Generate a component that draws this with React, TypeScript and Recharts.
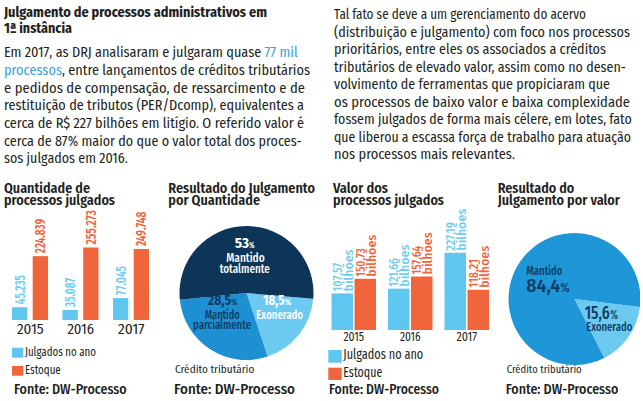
import React from "react";
import { BarChart, Bar, XAxis, YAxis, LabelList, PieChart, Pie, Cell } from "recharts";

// dados
const years = ["2015", "2016", "2017"];
const julgadosQtd = [45235, 35087, 77045];
const estoqueQtd = [224839, 255273, 249748];
const julgadosValor = [107.57, 121.66, 227.19];
const estoqueValor = [150.73, 157.64, 118.21];
const resultadoQtdNames = ["Exonerado", "Mantido parcialmente", "Mantido totalmente"];
const resultadoQtd = [18.5, 28.5, 53];
const resultadoValorNames = ["Exonerado", "Mantido"];
const resultadoValor = [15.6, 84.4];

const FONT =
  "'Fira Sans Condensed', 'Liberation Sans Narrow', 'Roboto Condensed', 'DejaVu Sans Condensed', sans-serif";
const INK = "#231f20";
const ORANGE = "#f0653b";
const SKY = "#5fc6f0";
const SKY_TEXT = "#6fcbf1";
const NAVY = "#0c3557";
const NAVY_TEXT = "#0d3a63";
const MID = "#1d90d2";
const MID2 = "#1e96d7";
const LIGHT = "#6ccaf1";
const LINK = "#3aa1d9";

const qtdData = years.map((year, i) => ({ year, julgados: julgadosQtd[i], estoque: estoqueQtd[i] }));
const valorData = years.map((year, i) => ({ year, julgados: julgadosValor[i], estoque: estoqueValor[i] }));
const qtdPie = resultadoQtdNames.map((name, i) => ({ name, value: resultadoQtd[i] }));
const valorPie = resultadoValorNames.map((name, i) => ({ name, value: resultadoValor[i] }));

const qtdColors: Record<string, string> = {
  Exonerado: LIGHT,
  "Mantido parcialmente": MID,
  "Mantido totalmente": NAVY,
};
const valorColors: Record<string, string> = { Exonerado: LIGHT, Mantido: MID2 };

const fmtQtd = (v: number) => String(v).replace(/\B(?=(\d{3})+(?!\d))/g, ".");
const fmtDec = (v: number) => v.toFixed(2).replace(".", ",");
const fmtPct = (v: number) => String(v).replace(".", ",");

function estW(s: string, digit: number) {
  let w = 0;
  for (const ch of s) w += ch === "." || ch === "," ? digit * 0.5 : digit;
  return w;
}

type TProps = {
  x: number;
  y: number;
  w?: number;
  size: number;
  weight?: number;
  fill?: string;
  children: React.ReactNode;
};

const T = ({ x, y, w, size, weight = 400, fill = INK, children }: TProps) => (
  <text
    x={x}
    y={y}
    fontSize={size}
    fontWeight={weight}
    fill={fill}
    fontFamily={FONT}
    textLength={w}
    lengthAdjust={w ? "spacingAndGlyphs" : undefined}
  >
    {children}
  </text>
);

const leftLines = [
  { t: "processos, entre lançamentos de créditos tributários", w: 306 },
  { t: "e pedidos de compensação, de ressarcimento e de", w: 301 },
  { t: "restituição de tributos (PER/Dcomp), equivalentes a", w: 300 },
  { t: "cerca de R$ 227 bilhões em litígio. O referido valor é", w: 300 },
  { t: "cerca de 87% maior do que o valor total dos proces-", w: 297.7 },
  { t: "sos julgados em 2016.", w: 123.7 },
];

const rightLines = [
  { t: "Tal fato se deve a um gerenciamento do acervo", w: 252 },
  { t: "(distribuição e julgamento) com foco nos processos", w: 296 },
  { t: "prioritários, entre eles os associados a créditos", w: 272 },
  { t: "tributários de elevado valor, assim como no desen-", w: 292 },
  { t: "volvimento de ferramentas que propiciaram que", w: 276 },
  { t: "os processos de baixo valor e baixa complexidade", w: 296 },
  { t: "fossem julgados de forma mais célere, em lotes, fato", w: 297.7 },
  { t: "que liberou a escassa força de trabalho para atuação", w: 297 },
  { t: "nos processos mais relevantes.", w: 181 },
];

const getBox = (p: any) => ({
  x: p.x ?? p.viewBox?.x,
  y: p.y ?? p.viewBox?.y,
  width: p.width ?? p.viewBox?.width,
});

const qtdLabel = (fill: string) => (props: any) => {
  const { x, y, width } = getBox(props);
  const s = fmtQtd(Number(props.value));
  const cx = x + width / 2 + 5;
  const cy = y - 3;
  return (
    <text
      x={cx}
      y={cy}
      transform={`rotate(-90 ${cx} ${cy})`}
      fill={fill}
      fontSize={13.5}
      fontWeight={600}
      fontFamily={FONT}
      textLength={estW(s, 5.3)}
      lengthAdjust="spacingAndGlyphs"
    >
      {s}
    </text>
  );
};

const valorLabel = (fill: string) => (props: any) => {
  const { x, y, width } = getBox(props);
  const s = fmtDec(Number(props.value));
  const c = x + width / 2;
  const y0 = y - 2;
  const a = c - 0.5;
  const b = c + 10.5;
  return (
    <g fill={fill} fontFamily={FONT} fontSize={12} fontWeight={500}>
      <text x={a} y={y0} transform={`rotate(-90 ${a} ${y0})`} textLength={estW(s, 5.2)} lengthAdjust="spacingAndGlyphs">
        {s}
      </text>
      <text x={b} y={y0} transform={`rotate(-90 ${b} ${y0})`} textLength={42} lengthAdjust="spacingAndGlyphs">
        bilhões
      </text>
    </g>
  );
};

const QtdTick = (props: any) => {
  const { x, y, payload } = props;
  const w = 26.7;
  return (
    <T x={x - w / 2} y={y + 14} size={15} w={w}>
      {payload.value}
    </T>
  );
};

const ValorTick = (props: any) => {
  const { x, y, payload } = props;
  const w = 20.7;
  return (
    <T x={x - w / 2} y={y + 11} size={13} w={w}>
      {payload.value}
    </T>
  );
};

function QtdPieLabel(props: any) {
  const { cx, cy, index } = props;
  const name = resultadoQtdNames[index];
  const pct = fmtPct(resultadoQtd[index]);
  const words = name.split(" ");
  if (name === "Mantido totalmente") {
    return (
      <g>
        <T x={cx - 11.8} y={cy - 44.7} size={13.5} weight={700} fill="#fff" w={14.3}>{pct}</T>
        <T x={cx + 2.5} y={cy - 44.7} size={9} weight={700} fill="#fff" w={5.5}>%</T>
        <T x={cx - 20.2} y={cy - 31.3} size={12} weight={500} fill="#fff" w={38.4}>{words[0]}</T>
        <T x={cx - 26.8} y={cy - 19.7} size={12} weight={500} fill="#fff" w={50}>{words[1]}</T>
      </g>
    );
  }
  if (name === "Mantido parcialmente") {
    return (
      <g>
        <T x={cx - 38.5} y={cy + 12} size={13.5} weight={700} fill={NAVY_TEXT} w={23}>{pct}</T>
        <T x={cx - 15.2} y={cy + 12} size={9} weight={700} fill={NAVY_TEXT} w={6}>%</T>
        <T x={cx - 41.8} y={cy + 26} size={12} weight={500} fill={NAVY_TEXT} w={35}>{words[0]}</T>
        <T x={cx - 53.5} y={cy + 36} size={12} weight={500} fill={NAVY_TEXT} w={58}>{words[1]}</T>
      </g>
    );
  }
  return (
    <g>
      <T x={cx + 16.5} y={cy + 12} size={13.5} weight={700} fill="#fff" w={21.5}>{pct}</T>
      <T x={cx + 38.2} y={cy + 12} size={9} weight={700} fill="#fff" w={6.5}>%</T>
      <T x={cx + 9.8} y={cy + 25.5} size={12} weight={500} fill="#fff" w={46.7}>{name}</T>
    </g>
  );
}

function ValorPieLabel(props: any) {
  const { cx, cy, index } = props;
  const name = resultadoValorNames[index];
  const pct = fmtPct(resultadoValor[index]);
  if (name === "Mantido") {
    return (
      <g>
        <T x={cx - 48.2} y={cy - 24} size={12} weight={500} fill={NAVY_TEXT} w={36}>{name}</T>
        <T x={cx - 48.2} y={cy - 7.3} size={19} weight={500} fill={NAVY_TEXT} w={34}>{pct}</T>
        <T x={cx - 14.2} y={cy - 7.3} size={13} weight={500} fill={NAVY_TEXT} w={9.4}>%</T>
      </g>
    );
  }
  return (
    <g>
      <T x={cx + 10.2} y={cy + 20.3} size={19} weight={500} fill={NAVY_TEXT} w={25}>{pct}</T>
      <T x={cx + 35.8} y={cy + 20.3} size={13} weight={500} fill={NAVY_TEXT} w={7.7}>%</T>
      <T x={cx + 11.8} y={cy + 31.5} size={12} weight={500} fill={NAVY_TEXT} w={46}>{name}</T>
    </g>
  );
}

export default function App() {
  return (
    <div
      style={{
        position: "absolute",
        left: 0,
        top: 0,
        width: 643,
        height: 401,
        background: "#fff",
        overflow: "hidden",
        fontFamily: FONT,
      }}
    >
      <svg width={643} height={401} style={{ position: "absolute", left: 0, top: 0 }}>
        {/* cabeçalho e textos */}
        <T x={4} y={17} size={15} weight={700} w={263}>Julgamento de processos administrativos em</T>
        <T x={4} y={33.3} size={15} weight={700} w={68}>1ª instância</T>
        <T x={4} y={57.3} size={14} w={293.7}>
          Em 2017, as DRJ analisaram e julgaram quase <tspan fill={LINK}>77 mil</tspan>
        </T>
        {leftLines.map((l, i) => (
          <T key={l.t} x={4} y={75 + i * 17.67} size={14} w={l.w}>
            {i === 0 ? (
              <>
                <tspan fill={LINK}>processos</tspan>
                {l.t.slice("processos".length)}
              </>
            ) : (
              l.t
            )}
          </T>
        ))}
        {rightLines.map((l, i) => (
          <T key={l.t} x={334} y={19 + i * 17.5} size={14} w={l.w}>
            {l.t}
          </T>
        ))}

        {/* títulos dos gráficos */}
        <T x={4} y={192.5} size={13.5} weight={600} w={86}>Quantidade de</T>
        <T x={4} y={205} size={13.5} weight={600} w={111}>processos julgados</T>
        <T x={168.3} y={192.5} size={13.5} weight={600} w={146.7}>Resultado do Julgamento</T>
        <T x={168.3} y={205} size={13.5} weight={600} w={91.7}>por Quantidade</T>
        <T x={333} y={192.5} size={13.5} weight={600} w={55}>Valor dos</T>
        <T x={333} y={205} size={13.5} weight={600} w={111}>processos julgados</T>
        <T x={497.7} y={192.5} size={13.5} weight={600} w={76.6}>Resultado do</T>
        <T x={497.7} y={205} size={13.5} weight={600} w={122.3}>Julgamento por valor</T>

        {/* legendas */}
        <rect x={12} y={347.7} width={11.3} height={10} fill={SKY} />
        <T x={25} y={356} size={13} w={71}>Julgados no ano</T>
        <rect x={12} y={366} width={11.3} height={9.7} fill={ORANGE} />
        <T x={25} y={374} size={13} w={35.7}>Estoque</T>

        <rect x={328.3} y={350} width={13.4} height={12.7} fill={SKY} />
        <T x={343.3} y={359.3} size={14} w={80}>Julgados no ano</T>
        <rect x={328.3} y={367.7} width={13.4} height={12.3} fill={ORANGE} />
        <T x={343.3} y={377.3} size={14} w={39}>Estoque</T>

        <T x={175} y={373.3} size={11.5} w={79.3}>Crédito tributário</T>
        <T x={506.7} y={373.3} size={11.5} w={75}>Crédito tributário</T>

        <T x={14} y={394} size={14.5} weight={500} w={112.7}>Fonte: DW-Processo</T>
        <T x={174} y={394} size={14.5} weight={500} w={121}>Fonte: DW-Processo</T>
        <T x={329} y={394} size={14.5} weight={500} w={110}>Fonte: DW-Processo</T>
        <T x={505.7} y={394} size={14.5} weight={500} w={112.6}>Fonte: DW-Processo</T>
      </svg>

      <div style={{ position: "absolute", left: 0, top: 200 }}>
        <BarChart
          width={160}
          height={140}
          data={qtdData}
          margin={{ top: 34.8, right: 3.5, bottom: 0, left: 5 }}
          barGap={5.4}
        >
          <XAxis
            dataKey="year"
            axisLine={false}
            tickLine={false}
            tickSize={0}
            tickMargin={0}
            height={20}
            interval={0}
            tick={QtdTick}
          />
          <YAxis hide domain={[0, 300000]} />
          <Bar dataKey="julgados" fill={SKY} barSize={15.3} isAnimationActive={false}>
            <LabelList dataKey="julgados" content={qtdLabel(SKY_TEXT)} />
          </Bar>
          <Bar dataKey="estoque" fill={ORANGE} barSize={15.3} isAnimationActive={false}>
            <LabelList dataKey="estoque" content={qtdLabel(ORANGE)} />
          </Bar>
        </BarChart>
      </div>

      <div style={{ position: "absolute", left: 325, top: 200 }}>
        <BarChart
          width={170}
          height={145}
          data={valorData}
          margin={{ top: 28, right: 0, bottom: 0, left: 0.5 }}
          barGap={1.5}
        >
          <XAxis
            dataKey="year"
            axisLine={false}
            tickLine={false}
            tickSize={0}
            tickMargin={0}
            height={15}
            interval={0}
            tick={ValorTick}
          />
          <YAxis hide domain={[0, 300]} />
          <Bar dataKey="julgados" fill={SKY} barSize={21.5} isAnimationActive={false}>
            <LabelList dataKey="julgados" content={valorLabel(SKY_TEXT)} />
          </Bar>
          <Bar dataKey="estoque" fill={ORANGE} barSize={21.5} isAnimationActive={false}>
            <LabelList dataKey="estoque" content={valorLabel(ORANGE)} />
          </Bar>
        </BarChart>
      </div>

      <div style={{ position: "absolute", left: 170, top: 218 }}>
        <PieChart width={144} height={142}>
          <Pie
            data={qtdPie}
            dataKey="value"
            nameKey="name"
            cx={71.5}
            cy={70}
            outerRadius={67}
            startAngle={-5}
            endAngle={-365}
            stroke="none"
            labelLine={false}
            label={QtdPieLabel}
            isAnimationActive={false}
          >
            {qtdPie.map((d) => (
              <Cell key={d.name} fill={qtdColors[d.name]} />
            ))}
          </Pie>
        </PieChart>
      </div>

      <div style={{ position: "absolute", left: 500, top: 225 }}>
        <PieChart width={140} height={140}>
          <Pie
            data={valorPie}
            dataKey="value"
            nameKey="name"
            cx={69.5}
            cy={69}
            outerRadius={66}
            startAngle={-7}
            endAngle={-367}
            stroke="none"
            labelLine={false}
            label={ValorPieLabel}
            isAnimationActive={false}
          >
            {valorPie.map((d) => (
              <Cell key={d.name} fill={valorColors[d.name]} />
            ))}
          </Pie>
        </PieChart>
      </div>
    </div>
  );
}
